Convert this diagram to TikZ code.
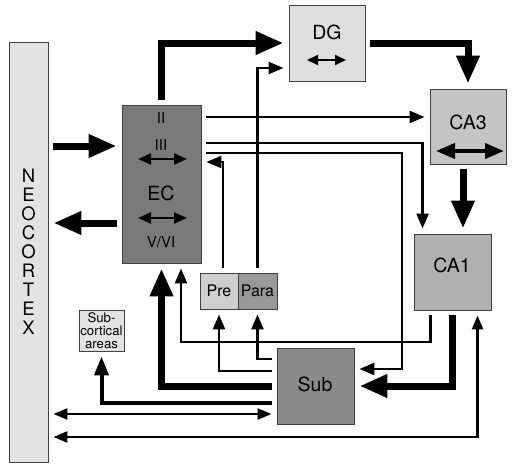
\documentclass[tikz,border=0pt]{standalone}
\usepackage{fontspec}
\setmainfont{TeX Gyre Heros}
\usetikzlibrary{calc, shapes, arrows.meta, positioning}

\tikzset{
	area/.style={draw=black!75, line width=0.9pt, inner sep=0pt},
	bigarrow/.style={line width=7pt, -{Triangle[length=28pt,width=22pt]}, shorten <=5pt, shorten >=5pt},
	midarrow/.style={line width=4pt, -{Triangle[length=19pt,width=14pt]}, shorten <=5pt, shorten >=5pt},
	thinarrow/.style={line width=2.5pt, -{Triangle[length=15pt,width=12pt]}, shorten <=5pt, shorten >=5pt},
	twoway/.style={line width=2.5pt, {Triangle[length=14pt,width=11pt]}-{Triangle[length=14pt,width=11pt]}, shorten <=5pt, shorten >=5pt},
	inarrow/.style={line width=2.2pt, {Triangle[length=13pt,width=11pt]}-{Triangle[length=13pt,width=11pt]}},
	bigin/.style={line width=3.8pt, {Triangle[length=19pt,width=15pt]}-{Triangle[length=19pt,width=15pt]}},
}

\begin{document}
\begin{tikzpicture}[x=1pt, y=-1pt]
	\newcommand{\myfontarea}{\fontsize{19.5}{21}\selectfont}
	\newcommand{\myfontlayer}{\fontsize{15}{17}\selectfont}
	\newcommand{\myfontpp}{\fontsize{16}{18}\selectfont}
	\newcommand{\myfontsmall}{\fontsize{13.2}{12.7}\selectfont}
	\newcommand{\myfontneo}{\fontsize{18.5}{19}\selectfont}
	\useasboundingbox (0,0) rectangle (515,469);
	%Neocortex bar
	\node[area, fill=black!11, minimum width=39pt, minimum height=420pt, align=center, font=\myfontneo] (neo) at (28.5,252) {N\\E\\O\\C\\O\\R\\T\\E\\X};
	%Areas
	\node[area, fill=black!52, minimum width=79pt, minimum height=158pt] (EC) at (161.5,184) {};
	\node[area, fill=black!13, minimum width=76pt, minimum height=76pt] (DG) at (327,43) {};
	\node[area, fill=black!23, minimum width=76pt, minimum height=75pt] (CAthree) at (468,126.5) {};
	\node[area, fill=black!31, minimum width=77pt, minimum height=76pt] (CAone) at (452.5,272) {};
	\node[area, fill=black!46, minimum width=77pt, minimum height=76pt] (Sub) at (315.5,386) {};
	\node[area, fill=black!19, minimum width=38pt, minimum height=36pt, font=\myfontpp] (Pre) at (219,291) {Pre};
	\node[area, fill=black!40, minimum width=39pt, minimum height=36pt, font=\myfontpp] (Para) at (257.5,291) {Para};
	\node[area, fill=black!11, minimum width=45pt, minimum height=41pt, align=center, font=\myfontsmall] (subctx) at (101.5,330.5) {Sub-\\cortical\\areas};
	%Labels in the areas
	\node[font=\myfontlayer] (ecII) at (161,118) {II};
	\node[font=\myfontlayer] (ecIII) at (161,145) {III};
	\node[font=\myfontarea] (ecName) at (161,193) {EC};
	\node[font=\myfontlayer] (ecVVI) at (161,242) {V/VI};
	\node[font=\myfontarea] (dgName) at (327,32) {DG};
	\node[font=\myfontarea] (caThreeName) at (468,122) {CA3};
	\node[font=\myfontarea] (caOneName) at (452,265) {CA1};
	\node[font=\myfontarea] (subName) at (315,384) {Sub};
	%Arrows inside the areas
	\coordinate (ecUpL) at (138,159);
	\coordinate (ecUpR) at (187,159);
	\coordinate (ecLoL) at (138,218);
	\coordinate (ecLoR) at (187,218);
	\coordinate (dgL) at (307,60);
	\coordinate (dgR) at (346,60);
	\coordinate (caThreeL) at (436,151);
	\coordinate (caThreeR) at (504,151);
	\draw[inarrow] (ecUpL) -- (ecUpR);
	\draw[inarrow] (ecLoL) -- (ecLoR);
	\draw[inarrow, line width=2pt, {Triangle[length=11pt,width=10pt]}-{Triangle[length=11pt,width=10pt]}] (dgL) -- (dgR);
	\draw[bigin] (caThreeL) -- (caThreeR);
	%Levels of the connections
	\coordinate (lvIn) at (0,146);
	\coordinate (lvOut) at (0,223);
	\coordinate (lvCAthree) at (0,117);
	\coordinate (lvCAone) at (0,143);
	\coordinate (lvSub) at (0,153);
	\coordinate (lvPre) at (0,162);
	\coordinate (lvPara) at (0,68);
	\coordinate (lvLoop) at (181,342);
	\coordinate (lvSubPara) at (0,359);
	\coordinate (lvSubPre) at (0,371);
	\coordinate (lvSubCtx) at (0,403);
	\coordinate (lvSubNeo) at (0,414);
	\coordinate (lvCAoneNeo) at (0,437);
	\coordinate (ecSubBend) at (402,369);
	%Neocortex and EC
	\draw[bigarrow] (neo.east |- lvIn) -- (EC.west |- lvIn);
	\draw[bigarrow] (EC.west |- lvOut) -- (neo.east |- lvOut);
	%Trisynaptic loop
	\draw[bigarrow] (EC.north) |- (DG.west);
	\draw[bigarrow] (DG.east) -| (CAthree.north);
	\draw[bigarrow] ([xshift=-5pt]CAthree.south) -- ([xshift=-5pt]CAthree.south |- CAone.north);
	\draw[bigarrow] (CAone.south) |- (Sub.east);
	\draw[bigarrow] (Sub.west) -| (EC.south);
	%Direct paths from EC
	\draw[thinarrow] (EC.east |- lvCAthree) -- (CAthree.west |- lvCAthree);
	\draw[thinarrow] (EC.east |- lvCAone) -| ([xshift=9pt]CAone.north west);
	\draw[thinarrow] (EC.east |- lvSub) -| (ecSubBend) -- (Sub.east |- ecSubBend);
	%Pre and Para
	\draw[thinarrow] ([xshift=4pt]Pre.north) |- (EC.east |- lvPre);
	\draw[thinarrow] (Para.north) |- (DG.west |- lvPara);
	\draw[thinarrow] (Sub.west |- lvSubPre) -| (Pre.south);
	\draw[thinarrow] (Sub.west |- lvSubPara) -| (Para.south);
	%CA1 back to EC
	\draw[thinarrow] ([xshift=-22pt]CAone.south) |- (lvLoop) -- (EC.south -| lvLoop);
	%Outputs of Sub and CA1
	\draw[midarrow] (Sub.west |- lvSubCtx) -| (subctx.south);
	\draw[twoway] (neo.east |- lvSubNeo) -- (Sub.west |- lvSubNeo);
	\draw[twoway] (neo.east |- lvCAoneNeo) -| ([xshift=25pt]CAone.south);
\end{tikzpicture}
\end{document}
